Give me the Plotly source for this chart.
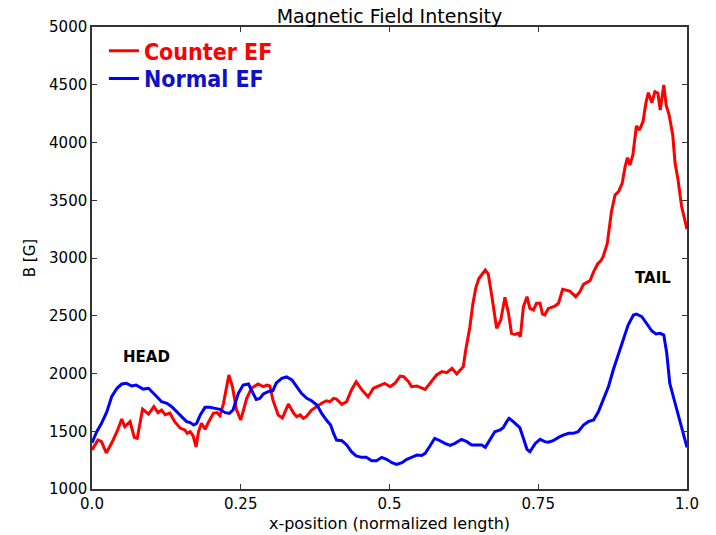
import plotly.graph_objects as go

# Counter-flow electric field profile (x normalized, B in gauss)
counter_x = [0.000, 0.010, 0.016, 0.024, 0.033, 0.042, 0.050, 0.055, 0.064, 0.071,
             0.076, 0.085, 0.095, 0.104, 0.111, 0.117, 0.123, 0.131, 0.139, 0.148,
             0.156, 0.160, 0.165, 0.170, 0.175, 0.179, 0.184, 0.190, 0.195, 0.204,
             0.210, 0.215, 0.221, 0.230, 0.236, 0.243, 0.250, 0.260, 0.268, 0.279,
             0.288, 0.294, 0.299, 0.304, 0.313, 0.320, 0.330, 0.339, 0.344, 0.350,
             0.355, 0.360, 0.369, 0.378, 0.386, 0.394, 0.400, 0.406, 0.411, 0.420,
             0.428, 0.436, 0.444, 0.453, 0.464, 0.473, 0.484, 0.492, 0.501, 0.509,
             0.518, 0.524, 0.532, 0.537, 0.546, 0.554, 0.560, 0.568, 0.579, 0.588,
             0.596, 0.605, 0.613, 0.624, 0.628, 0.635, 0.640, 0.645, 0.650, 0.661,
             0.666, 0.673, 0.680, 0.687, 0.694, 0.700, 0.705, 0.711, 0.716, 0.720,
             0.725, 0.731, 0.736, 0.742, 0.747, 0.753, 0.757, 0.761, 0.767, 0.778,
             0.784, 0.791, 0.798, 0.803, 0.813, 0.820, 0.826, 0.837, 0.843, 0.850,
             0.855, 0.859, 0.866, 0.873, 0.879, 0.885, 0.891, 0.896, 0.900, 0.904,
             0.909, 0.915, 0.920, 0.926, 0.931, 0.935, 0.941, 0.946, 0.951, 0.955,
             0.961, 0.965, 0.970, 0.976, 0.980, 0.985, 0.991, 1.000]
counter_b = [1338, 1424, 1410, 1312, 1398, 1496, 1606, 1540, 1583, 1447,
             1439, 1692, 1649, 1713, 1661, 1684, 1644, 1658, 1583, 1528,
             1511, 1482, 1496, 1459, 1366, 1496, 1569, 1517, 1571, 1655,
             1661, 1635, 1742, 1987, 1886, 1684, 1597, 1785, 1872, 1909,
             1886, 1900, 1892, 1771, 1641, 1615, 1735, 1655, 1626, 1641,
             1612, 1626, 1684, 1719, 1742, 1764, 1756, 1785, 1778, 1733,
             1756, 1857, 1929, 1862, 1799, 1872, 1900, 1915, 1886, 1915,
             1978, 1972, 1929, 1886, 1892, 1872, 1863, 1915, 1987, 2016,
             2007, 2045, 1996, 2059, 2200, 2400, 2600, 2740, 2820, 2896,
             2861, 2636, 2391, 2463, 2660, 2521, 2348, 2339, 2348, 2319,
             2578, 2665, 2564, 2550, 2608, 2608, 2515, 2506, 2564, 2584,
             2608, 2729, 2717, 2713, 2665, 2709, 2772, 2804, 2880, 2950,
             2975, 3011, 3127, 3401, 3545, 3574, 3647, 3791, 3869, 3805,
             3892, 4143, 4108, 4180, 4345, 4431, 4345, 4440, 4426, 4281,
             4498, 4324, 4238, 4065, 3820, 3675, 3444, 3250]

# Normal electric field profile
normal_x = [0.000, 0.008, 0.016, 0.025, 0.033, 0.042, 0.050, 0.058, 0.067, 0.074,
            0.081, 0.086, 0.095, 0.100, 0.109, 0.117, 0.126, 0.134, 0.142, 0.151,
            0.159, 0.165, 0.171, 0.176, 0.182, 0.190, 0.198, 0.207, 0.215, 0.224,
            0.231, 0.237, 0.246, 0.254, 0.263, 0.268, 0.276, 0.282, 0.288, 0.296,
            0.304, 0.310, 0.319, 0.327, 0.336, 0.344, 0.352, 0.361, 0.369, 0.378,
            0.386, 0.394, 0.401, 0.406, 0.411, 0.420, 0.428, 0.436, 0.444, 0.453,
            0.461, 0.470, 0.478, 0.487, 0.495, 0.504, 0.512, 0.521, 0.529, 0.537,
            0.546, 0.554, 0.560, 0.568, 0.576, 0.585, 0.593, 0.602, 0.610, 0.621,
            0.630, 0.638, 0.646, 0.655, 0.661, 0.669, 0.677, 0.686, 0.691, 0.697,
            0.701, 0.708, 0.719, 0.725, 0.731, 0.736, 0.745, 0.753, 0.761, 0.767,
            0.775, 0.784, 0.792, 0.801, 0.809, 0.817, 0.826, 0.834, 0.843, 0.851,
            0.859, 0.868, 0.876, 0.884, 0.893, 0.901, 0.910, 0.915, 0.924, 0.932,
            0.941, 0.948, 0.955, 0.961, 0.966, 0.971, 0.980, 0.988, 1.000]
normal_b = [1401, 1496, 1569, 1669, 1799, 1872, 1909, 1915, 1892, 1900,
            1880, 1865, 1872, 1843, 1799, 1756, 1742, 1713, 1669, 1626,
            1583, 1575, 1554, 1570, 1641, 1707, 1707, 1698, 1690, 1661,
            1655, 1684, 1828, 1900, 1909, 1857, 1776, 1785, 1823, 1843,
            1851, 1920, 1958, 1970, 1944, 1886, 1828, 1785, 1764, 1727,
            1655, 1597, 1554, 1482, 1424, 1418, 1381, 1323, 1286, 1274,
            1274, 1245, 1245, 1274, 1257, 1228, 1213, 1228, 1257, 1274,
            1294, 1290, 1309, 1372, 1439, 1418, 1395, 1377, 1395, 1430,
            1410, 1381, 1381, 1381, 1361, 1430, 1496, 1511, 1531, 1583,
            1612, 1583, 1531, 1439, 1344, 1323, 1395, 1430, 1410, 1405,
            1418, 1447, 1467, 1482, 1482, 1496, 1554, 1583, 1597, 1669,
            1771, 1886, 2030, 2160, 2290, 2420, 2506, 2515, 2492, 2435,
            2368, 2342, 2348, 2333, 2175, 1915, 1742, 1569, 1360]

x_ticks = [0.0, 0.25, 0.5, 0.75, 1.0]
x_tick_text = ["0.0", "0.25", "0.5", "0.75", "1.0"]
y_ticks = [1000, 1500, 2000, 2500, 3000, 3500, 4000, 4500, 5000]

TEXT_FONT = "DejaVu Sans, Verdana, sans-serif"
LEGEND_FONT = "Liberation Sans Narrow, DejaVu Sans Condensed, Roboto Condensed, Arial Narrow, sans-serif"

fig = go.Figure()
fig.add_trace(go.Scatter(x=counter_x, y=counter_b, mode="lines", name="Counter EF",
                         line=dict(color="#ff0000", width=3), legend="legend"))
fig.add_trace(go.Scatter(x=normal_x, y=normal_b, mode="lines", name="Normal EF",
                         line=dict(color="#0000ff", width=3), legend="legend2"))

fig.add_annotation(x=0.091, y=2140, text="<b>HEAD</b>", showarrow=False,
                   font=dict(family=TEXT_FONT, size=15, color="black"))
fig.add_annotation(x=0.943, y=2825, text="<b>TAIL</b>", showarrow=False,
                   font=dict(family=TEXT_FONT, size=15, color="black"))

axis_common = dict(showline=True, linecolor="#333333", linewidth=1.5, mirror="ticks",
                   ticks="inside", ticklen=5, tickwidth=1, tickcolor="#333333",
                   showgrid=False, zeroline=False, automargin=False,
                   tickfont=dict(family=TEXT_FONT, size=15, color="black"))

fig.update_layout(
    width=716, height=535,
    margin=dict(l=92, r=29, t=27, b=46),
    paper_bgcolor="white", plot_bgcolor="white",
    title=dict(text="Magnetic Field Intensity", x=0.544, xanchor="center",
               y=0.969, yanchor="middle",
               font=dict(family=TEXT_FONT, size=19, color="black")),
    xaxis=dict(range=[0, 1], tickvals=x_ticks, ticktext=x_tick_text,
               title=dict(text="x-position (normalized length)", standoff=6,
                          font=dict(family=TEXT_FONT, size=16, color="black")),
               **axis_common),
    yaxis=dict(range=[1000, 5000], tickvals=y_ticks,
               title=dict(text="B [G]", standoff=10,
                          font=dict(family=TEXT_FONT, size=15, color="black")),
               **axis_common),
    legend=dict(x=0.02, y=0.995, xanchor="left", yanchor="top",
                bgcolor="rgba(0,0,0,0)", borderwidth=0,
                font=dict(family=LEGEND_FONT, size=23, color="#ff0000", weight="bold"),
                itemwidth=30),
    legend2=dict(x=0.02, y=0.935, xanchor="left", yanchor="top",
                 bgcolor="rgba(0,0,0,0)", borderwidth=0,
                 font=dict(family=LEGEND_FONT, size=23, color="#1010c8", weight="bold"),
                 itemwidth=30),
    showlegend=True,
)

fig.write_html("out.html")
